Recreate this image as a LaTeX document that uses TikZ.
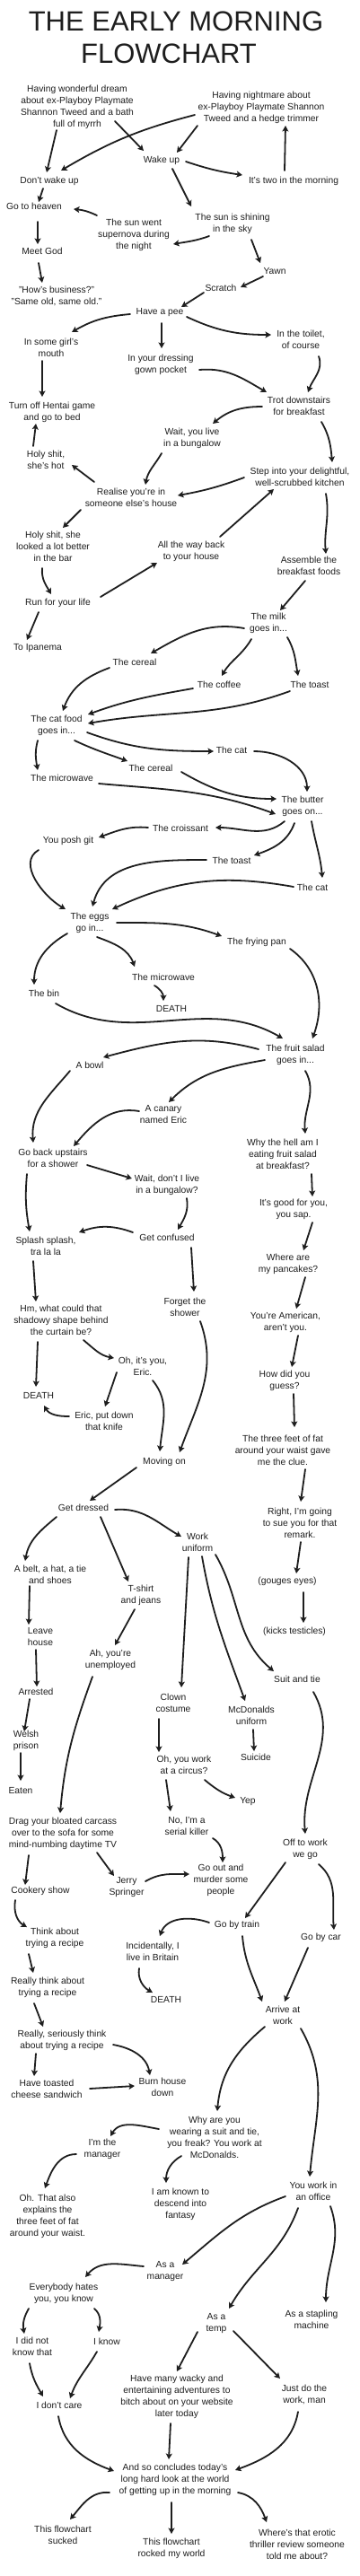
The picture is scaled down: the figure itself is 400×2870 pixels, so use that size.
\documentclass[tikz,border=0pt]{standalone}
\usepackage{fontspec}
\setmainfont{Liberation Sans}
\usetikzlibrary{arrows.meta}
\definecolor{ink}{HTML}{1E1E1E}
\newcommand{\ndfont}{\fontsize{10.3}{13}\selectfont}
\newcommand{\ttlfont}{\fontsize{31}{37}\selectfont}
\tikzset{
  box/.style={align=center, inner sep=1pt, text=ink, font=\ndfont},
  ttl/.style={inner sep=0pt, text=ink, font=\ttlfont},
  ar/.style={draw=ink, line width=1.8pt, line cap=round,
    -{Stealth[length=6.5pt,width=7pt,inset=1.5pt]}},
}
\begin{document}
\begin{tikzpicture}[x=1pt,y=-1pt]
\useasboundingbox (0,0) rectangle (400,2870);
\fill[white] (0,0) rectangle (400,2870);
% ---------- nodes ----------
\node[ttl] (t1) at (196,24) {THE EARLY MORNING};
\node[ttl] (t2) at (188,60) {FLOWCHART};
\node[box] (n1) at (86,119.5) {Having wonderful dream\\about ex-Playboy Playmate\\Shannon Tweed and a bath\\full of myrrh};
\node[box] (n2) at (291,119.5) {Having nightmare about\\ex-Playboy Playmate Shannon\\Tweed and a hedge trimmer};
\node[box] (wake) at (180,179) {Wake up};
\node[box] (dont) at (55,202) {Don't wake up};
\node[box] (twoam) at (327,202) {It's two in the morning};
\node[box] (heaven) at (38,230) {Go to heaven};
\node[box] (sun) at (259,249) {The sun is shining\\in the sky};
\node[box] (nova) at (149,262) {The sun went\\supernova during\\the night};
\node[box] (god) at (47,280) {Meet God};
\node[box] (biz) at (63,329.5) {"How's business?"\\"Same old, same old."};
\node[box] (yawn) at (306,302) {Yawn};
\node[box] (scratch) at (246,321) {Scratch};
\node[box] (pee) at (178,348) {Have a pee};
\node[box] (mouth) at (57,387) {In some girl's\\mouth};
\node[box] (toilet) at (335,378) {In the toilet,\\of course};
\node[box] (gown) at (179,406) {In your dressing\\gown pocket};
\node[box] (hentai) at (58,459.5) {Turn off Hentai game\\and go to bed};
\node[box] (trot) at (333,452.5) {Trot downstairs\\for breakfast};
\node[box] (bung) at (214,488) {Wait, you live\\in a bungalow};
\node[box] (hot) at (51,512.5) {Holy shit,\\she's hot};
\node[box] (kitchen) at (334,531.5) {Step into your delightful,\\well-scrubbed kitchen};
\node[box] (someone) at (146,554.5) {Realise you're in\\someone else's house};
\node[box] (bar) at (59,609) {Holy shit, she\\looked a lot better\\in the bar};
\node[box] (back) at (213,614.5) {All the way back\\to your house};
\node[box] (assemble) at (344,630.5) {Assemble the\\breakfast foods};
\node[box] (run) at (64.5,672) {Run for your life};
\node[box] (milk) at (299,694) {The milk\\goes in...};
\node[box] (ipanema) at (42,722) {To Ipanema};
\node[box] (cerealA) at (150,738) {The cereal};
\node[box] (coffee) at (244,763) {The coffee};
\node[box] (toastA) at (345,763) {The toast};
\node[box] (catfood) at (63,808) {The cat food\\goes in...};
\node[box] (catA) at (258,836) {The cat};
\node[box] (cerealB) at (168,856) {The cereal};
\node[box] (microA) at (69,867) {The microwave};
\node[box] (butter) at (337,898) {The butter\\goes on...};
\node[box] (croissant) at (201,923) {The croissant};
\node[box] (posh) at (76,937) {You posh git};
\node[box] (toastB) at (258,959) {The toast};
\node[box] (catB) at (348,989) {The cat};
\node[box] (eggs) at (100,1028) {The eggs\\go in...};
\node[box] (pan) at (286,1050) {The frying pan};
\node[box] (microB) at (182,1089) {The microwave};
\node[box] (bin) at (49,1107) {The bin};
\node[box] (deathA) at (191,1124) {DEATH};
\node[box] (fruit) at (329,1175.5) {The fruit salad\\goes in...};
\node[box] (bowl) at (100,1187) {A bowl};
\node[box] (canary) at (182,1241.5) {A canary\\named Eric};
\node[box] (why) at (315,1286) {Why the hell am I\\eating fruit salad\\at breakfast?};
\node[box] (upstairs) at (59,1290.5) {Go back upstairs\\for a shower};
\node[box] (waitB) at (186,1320.5) {Wait, don't I live\\in a bungalow?};
\node[box] (good) at (327,1347.5) {It's good for you,\\you sap.};
\node[box] (confused) at (186,1379) {Get confused};
\node[box] (splash) at (51,1388) {Splash splash,\\tra la la};
\node[box] (pancakes) at (321,1408) {Where are\\my pancakes?};
\node[box] (forget) at (206,1456) {Forget the\\shower};
\node[box] (shadow) at (68,1471) {Hm, what could that\\shadowy shape behind\\the curtain be?};
\node[box] (american) at (318,1473.5) {You're American,\\aren't you.};
\node[box] (oh) at (159,1522.5) {Oh, it's you,\\Eric.};
\node[box] (guess) at (317,1538.5) {How did you\\guess?};
\node[box] (deathB) at (43,1555) {DEATH};
\node[box] (knife) at (116,1583.5) {Eric, put down\\that knife};
\node[box] (fat) at (315,1616) {The three feet of fat\\around your waist gave\\me the clue.};
\node[box] (moving) at (183,1629) {Moving on};
\node[box] (dressed) at (93,1680) {Get dressed};
\node[box] (sue) at (334,1696.5) {Right, I'm going\\to sue you for that\\remark.};
\node[box] (uniform) at (220,1718) {Work\\uniform};
\node[box] (belt) at (56,1754.5) {A belt, a hat, a tie\\and shoes};
\node[box] (gouges) at (320,1762) {(gouges eyes)};
\node[box] (tshirt) at (157,1777) {T-shirt\\and jeans};
\node[box] (leave) at (45,1823.5) {Leave\\house};
\node[box] (kicks) at (328,1818) {(kicks testicles)};
\node[box] (unemployed) at (123,1849) {Ah, you're\\unemployed};
\node[box] (suit) at (331,1871) {Suit and tie};
\node[box] (arrested) at (40,1885) {Arrested};
\node[box] (clown) at (193,1897) {Clown\\costume};
\node[box] (mcd) at (280,1911.5) {McDonalds\\uniform};
\node[box] (welsh) at (29,1939) {Welsh\\prison};
\node[box] (ohwork) at (205,1966.5) {Oh, you work\\at a circus?};
\node[box] (suicide) at (285,1958) {Suicide};
\node[box] (eaten) at (23,1995) {Eaten};
\node[box] (yep) at (276,2007) {Yep};
\node[box] (drag) at (70,2043) {Drag your bloated carcass\\over to the sofa for some\\mind-numbing daytime TV};
\node[box] (serial) at (208,2034) {No, I'm a\\serial killer};
\node[box] (offwork) at (340,2060) {Off to work\\we go};
\node[box] (murder) at (246,2094.5) {Go out and\\murder some\\people};
\node[box] (jerry) at (141,2102) {Jerry\\Springer};
\node[box] (cookery) at (45,2107) {Cookery show};
\node[box] (train) at (264,2145) {Go by train};
\node[box] (car) at (357.5,2159) {Go by car};
\node[box] (thinkA) at (61,2159.5) {Think about\\trying a recipe};
\node[box] (brit) at (170,2174.5) {Incidentally, I\\live in Britain};
\node[box] (thinkB) at (53,2214) {Really think about\\trying a recipe};
\node[box] (deathC) at (185,2228) {DEATH};
\node[box] (arrive) at (315,2245.5) {Arrive at\\work};
\node[box] (thinkC) at (69,2273) {Really, seriously think\\about trying a recipe};
\node[box] (toasted) at (52,2327) {Have toasted\\cheese sandwich};
\node[box] (burn) at (181,2325) {Burn house\\down};
\node[box] (whysuit) at (239,2381.5) {Why are you\\wearing a suit and tie,\\you freak? You work at\\McDonalds.};
\node[box] (managerA) at (114,2394.5) {I'm the\\manager};
\node[box] (office) at (349,2441) {You work in\\an office};
\node[box] (fantasy) at (201,2455.5) {I am known to\\descend into\\fantasy};
\node[box] (alsofat) at (53,2469.5) {Oh. That also\\explains the\\three feet of fat\\around your waist.};
\node[box] (asmgr) at (184,2530.5) {As a\\manager};
\node[box] (hates) at (71,2555.5) {Everybody hates\\you, you know};
\node[box] (stapling) at (347,2584.5) {As a stapling\\machine};
\node[box] (temp) at (241,2588) {As a\\temp};
\node[box] (didnot) at (36,2614.5) {I did not\\know that};
\node[box] (know) at (119,2609) {I know};
\node[box] (wacky) at (197,2670) {Have many wacky and\\entertaining adventures to\\bitch about on your website\\later today};
\node[box] (justdo) at (339,2668) {Just do the\\work, man};
\node[box] (dontcare) at (66,2680) {I don't care};
\node[box] (conclude) at (195,2763) {And so concludes today's\\long hard look at the world\\of getting up in the morning};
\node[box] (sucked) at (70,2824) {This flowchart\\sucked};
\node[box] (rocked) at (191,2839.5) {This flowchart\\rocked my world};
\node[box] (erotic) at (331,2834.5) {Where's that erotic\\thriller review someone\\told me about?};
% ---------- connectors ----------
\draw[ar] ([shift={(-23,25.5)}]n1.center) -- ([shift={(-3,-10)}]dont.center);
\draw[ar] ([shift={(42,15.5)}]n1.center) -- ([shift={(-20,-11)}]wake.center);
\draw[ar] ([shift={(-74,8.5)}]n2.center) to[bend right=8] ([shift={(13,-12)}]dont.center);
\draw[ar] ([shift={(-71,20.5)}]n2.center) -- ([shift={(17,-9)}]wake.center);
\draw[ar] ([shift={(27,1)}]wake.center) to[bend right=5] ([shift={(-57,-7)}]twoam.center);
\draw[ar] ([shift={(-10,-12)}]twoam.center) -- ([shift={(27,20.5)}]n2.center);
\draw[ar] ([shift={(12,9)}]wake.center) -- ([shift={(-46,-19)}]sun.center);
\draw[ar] ([shift={(-7,8)}]dont.center) -- ([shift={(5,-5)}]heaven.center);
\draw[ar] ([shift={(-41,-22)}]nova.center) to[bend right=10] ([shift={(44,3)}]heaven.center);
\draw[ar] ([shift={(4,17)}]heaven.center) -- ([shift={(-5,-8)}]god.center);
\draw[ar] ([shift={(-4,13)}]god.center) -- ([shift={(-16,-14.5)}]biz.center);
\draw[ar] ([shift={(-26,14)}]sun.center) to[out=200,in=10] ([shift={(44,10)}]nova.center);
\draw[ar] ([shift={(21,18)}]sun.center) -- ([shift={(-16,-9)}]yawn.center);
\draw[ar] ([shift={(-13,6)}]yawn.center) -- ([shift={(22,-1)}]scratch.center);
\draw[ar] ([shift={(-19,5)}]scratch.center) -- ([shift={(24,-6)}]pee.center);
\draw[ar] ([shift={(-33,2)}]pee.center) to[out=185,in=30] ([shift={(23,-17)}]mouth.center);
\draw[ar] ([shift={(2,12)}]pee.center) -- ([shift={(1,-18)}]gown.center);
\draw[ar] ([shift={(30,5)}]pee.center) to[out=-25,in=180] ([shift={(-33,-5)}]toilet.center);
\draw[ar] ([shift={(-10,15)}]mouth.center) -- ([shift={(-11,-17.5)}]hentai.center);
\draw[ar] ([shift={(43,6)}]gown.center) to[out=5,in=150] ([shift={(-36,-15.5)}]trot.center);
\draw[ar] ([shift={(20,19)}]toilet.center) to[out=-70,in=70] ([shift={(10,-15.5)}]trot.center);
\draw[ar] ([shift={(-41,0.5)}]trot.center) to[out=180,in=40] ([shift={(23,-16)}]bung.center);
\draw[ar] ([shift={(25,17.5)}]trot.center) to[out=-60,in=95] ([shift={(36,-16.5)}]kitchen.center);
\draw[ar] ([shift={(-14,-15.5)}]hot.center) -- ([shift={(-18,12.5)}]hentai.center);
\draw[ar] ([shift={(-34,17)}]bung.center) to[out=-120,in=80] ([shift={(16,-14.5)}]someone.center);
\draw[ar] ([shift={(-41,-17.5)}]someone.center) -- ([shift={(29,5.5)}]hot.center);
\draw[ar] ([shift={(-62,0.5)}]kitchen.center) to[bend left=5] ([shift={(52,-2.5)}]someone.center);
\draw[ar] ([shift={(-56,13.5)}]someone.center) -- ([shift={(11,-21)}]bar.center);
\draw[ar] ([shift={(32,-16.5)}]back.center) -- ([shift={(-29,13.5)}]kitchen.center);
\draw[ar] ([shift={(29,18.5)}]kitchen.center) to[out=-80,in=95] ([shift={(19,-13.5)}]assemble.center);
\draw[ar] ([shift={(-12,24)}]bar.center) to[out=-95,in=120] ([shift={(-7.5,-10)}]run.center);
\draw[ar] ([shift={(47.5,-7)}]run.center) -- ([shift={(-38,12.5)}]back.center);
\draw[ar] ([shift={(-4,16.5)}]assemble.center) -- ([shift={(13,-14)}]milk.center);
\draw[ar] ([shift={(-21.5,10)}]run.center) -- ([shift={(-12,-9)}]ipanema.center);
\draw[ar] ([shift={(-27,6)}]milk.center) to[out=170,in=30] ([shift={(18,-10)}]cerealA.center);
\draw[ar] ([shift={(-19,18)}]milk.center) to[out=-120,in=60] ([shift={(3,-10)}]coffee.center);
\draw[ar] ([shift={(21,16)}]milk.center) to[out=-60,in=100] ([shift={(-13,-10)}]toastA.center);
\draw[ar] ([shift={(-28,6)}]cerealA.center) to[out=200,in=70] ([shift={(7,-16)}]catfood.center);
\draw[ar] ([shift={(-29,4)}]coffee.center) to[out=190,in=20] ([shift={(35,-12)}]catfood.center);
\draw[ar] ([shift={(-22,7)}]toastA.center) to[out=200,in=10] ([shift={(35,-2)}]catfood.center);
\draw[ar] ([shift={(34,8)}]catfood.center) to[out=-20,in=180] ([shift={(-20,1)}]catA.center);
\draw[ar] ([shift={(20,17)}]catfood.center) to[out=-25,in=160] ([shift={(-26,-8)}]cerealB.center);
\draw[ar] ([shift={(-21,17)}]catfood.center) to[out=-105,in=100] ([shift={(-27,-9)}]microA.center);
\draw[ar] ([shift={(25,1)}]catA.center) to[out=0,in=90] ([shift={(5,-16)}]butter.center);
\draw[ar] ([shift={(34,4)}]cerealB.center) to[out=-30,in=180] ([shift={(-29,-8)}]butter.center);
\draw[ar] ([shift={(41,6)}]microA.center) to[out=-5,in=160] ([shift={(-30,9)}]butter.center);
\draw[ar] ([shift={(-20,17)}]butter.center) to[out=-140,in=0] ([shift={(39,-1)}]croissant.center);
\draw[ar] ([shift={(-36,-1)}]croissant.center) to[out=175,in=20] ([shift={(34,-4)}]posh.center);
\draw[ar] ([shift={(-9,19)}]butter.center) to[out=-110,in=20] ([shift={(25,-6)}]toastB.center);
\draw[ar] ([shift={(10,17)}]butter.center) to[out=-80,in=95] ([shift={(11,-11)}]catB.center);
\draw[ar] ([shift={(-33,10)}]posh.center) to[out=210,in=150] ([shift={(-27,-15)}]eggs.center);
\draw[ar] ([shift={(-28,-1)}]toastB.center) to[out=180,in=75] ([shift={(3,-18)}]eggs.center);
\draw[ar] ([shift={(-21,-1)}]catB.center) to[out=170,in=25] ([shift={(25,-15)}]eggs.center);
\draw[ar] ([shift={(30,0)}]eggs.center) to[out=0,in=160] ([shift={(-39,-7)}]pan.center);
\draw[ar] ([shift={(8,16)}]eggs.center) to[out=-20,in=110] ([shift={(-32,-12)}]microB.center);
\draw[ar] ([shift={(-25,12)}]eggs.center) to[out=-150,in=90] ([shift={(-11,-10)}]bin.center);
\draw[ar] ([shift={(-10,9)}]microB.center) to[out=-30,in=90] ([shift={(-9,-9)}]deathA.center);
\draw[ar] ([shift={(13,11)}]bin.center) to[out=-30,in=150] ([shift={(-14,-18.5)}]fruit.center);
\draw[ar] ([shift={(37,7)}]pan.center) to[out=-35,in=70] ([shift={(19,-18.5)}]fruit.center);
\draw[ar] ([shift={(-41,-6.5)}]fruit.center) to[out=165,in=15] ([shift={(15,-9)}]bowl.center);
\draw[ar] ([shift={(-22,6)}]bowl.center) to[out=-130,in=95] ([shift={(-22,-17.5)}]upstairs.center);
\draw[ar] ([shift={(-34,5.5)}]fruit.center) to[out=190,in=45] ([shift={(6,-13.5)}]canary.center);
\draw[ar] ([shift={(11,17.5)}]fruit.center) to[out=-60,in=95] ([shift={(25,-23)}]why.center);
\draw[ar] ([shift={(-27,-3.5)}]canary.center) to[out=170,in=50] ([shift={(23,-13.5)}]upstairs.center);
\draw[ar] ([shift={(38,7.5)}]upstairs.center) -- ([shift={(-39,-7.5)}]waitB.center);
\draw[ar] ([shift={(-29,17.5)}]upstairs.center) to[out=-95,in=100] ([shift={(-18,-16)}]splash.center);
\draw[ar] ([shift={(22,14.5)}]waitB.center) to[out=-80,in=60] ([shift={(12,-9)}]confused.center);
\draw[ar] ([shift={(-38,-6)}]confused.center) to[out=160,in=20] ([shift={(37,-15)}]splash.center);
\draw[ar] ([shift={(27,11)}]confused.center) -- ([shift={(10,-17)}]forget.center);
\draw[ar] ([shift={(32,22)}]why.center) -- ([shift={(21,-14.5)}]good.center);
\draw[ar] ([shift={(21,14.5)}]good.center) -- ([shift={(17,-15)}]pancakes.center);
\draw[ar] ([shift={(19,15)}]pancakes.center) -- ([shift={(12,-15.5)}]american.center);
\draw[ar] ([shift={(-14,17)}]splash.center) -- ([shift={(-28,-21)}]shadow.center);
\draw[ar] ([shift={(-26,24)}]shadow.center) -- ([shift={(-3,-10)}]deathB.center);
\draw[ar] ([shift={(25,22)}]shadow.center) to[out=-40,in=170] ([shift={(-32,-9.5)}]oh.center);
\draw[ar] ([shift={(-29,6.5)}]oh.center) -- ([shift={(1,-16.5)}]knife.center);
\draw[ar] ([shift={(-39,-5.5)}]knife.center) to[out=180,in=-60] ([shift={(6,11)}]deathB.center);
\draw[ar] ([shift={(11,15.5)}]oh.center) to[out=-50,in=85] ([shift={(-5,-12)}]moving.center);
\draw[ar] ([shift={(17,16)}]forget.center) to[out=-70,in=70] ([shift={(17,-11)}]moving.center);
\draw[ar] ([shift={(14,14.5)}]american.center) -- ([shift={(8,-15.5)}]guess.center);
\draw[ar] ([shift={(10,14.5)}]guess.center) -- ([shift={(13,-26)}]fat.center);
\draw[ar] ([shift={(25,21)}]fat.center) -- ([shift={(1,-23.5)}]sue.center);
\draw[ar] ([shift={(-31,6)}]moving.center) -- ([shift={(7,-8)}]dressed.center);
\draw[ar] ([shift={(35,2)}]dressed.center) to[out=5,in=150] ([shift={(-18,-6)}]uniform.center);
\draw[ar] ([shift={(-30,10)}]dressed.center) to[out=-140,in=80] ([shift={(-28,-15.5)}]belt.center);
\draw[ar] ([shift={(19,10)}]dressed.center) -- ([shift={(-14,-15)}]tshirt.center);
\draw[ar] ([shift={(1,21.5)}]sue.center) -- ([shift={(10,-9)}]gouges.center);
\draw[ar] ([shift={(18,12)}]gouges.center) -- ([shift={(10,-10)}]kicks.center);
\draw[ar] ([shift={(-23,12.5)}]belt.center) -- ([shift={(-13,-13.5)}]leave.center);
\draw[ar] ([shift={(-7,16)}]tshirt.center) -- ([shift={(5,-16)}]unemployed.center);
\draw[ar] ([shift={(-10,17)}]uniform.center) -- ([shift={(9,-17)}]clown.center);
\draw[ar] ([shift={(5,16)}]uniform.center) to[out=-80,in=110] ([shift={(-7,-16.5)}]mcd.center);
\draw[ar] ([shift={(20,14)}]uniform.center) to[out=-60,in=140] ([shift={(-26,-9)}]suit.center);
\draw[ar] ([shift={(-5,14.5)}]leave.center) -- ([shift={(1,-6)}]arrested.center);
\draw[ar] ([shift={(-7,8)}]arrested.center) -- ([shift={(-2,-10)}]welsh.center);
\draw[ar] ([shift={(-20,19)}]unemployed.center) to[out=-110,in=85] ([shift={(-3,-23)}]drag.center);
\draw[ar] ([shift={(-16,18)}]clown.center) -- ([shift={(-28,-14.5)}]ohwork.center);
\draw[ar] ([shift={(2,15.5)}]mcd.center) -- ([shift={(-2,-7)}]suicide.center);
\draw[ar] ([shift={(18,14)}]suit.center) to[out=-60,in=95] ([shift={(0,-17)}]offwork.center);
\draw[ar] ([shift={(-6,14)}]welsh.center) -- ([shift={(0,-11)}]eaten.center);
\draw[ar] ([shift={(23,16.5)}]ohwork.center) to[out=-40,in=160] ([shift={(-14,-4)}]yep.center);
\draw[ar] ([shift={(-20,16.5)}]ohwork.center) -- ([shift={(-18,-16)}]serial.center);
\draw[ar] ([shift={(29,14)}]serial.center) to[out=-30,in=90] ([shift={(2,-19.5)}]murder.center);
\draw[ar] ([shift={(-38,24)}]drag.center) -- ([shift={(-17,-7)}]cookery.center);
\draw[ar] ([shift={(38,21)}]drag.center) -- ([shift={(-14,-12)}]jerry.center);
\draw[ar] ([shift={(21,-6)}]jerry.center) to[out=30,in=180] ([shift={(-35,-6.5)}]murder.center);
\draw[ar] ([shift={(-22,15)}]offwork.center) -- ([shift={(9,-8)}]train.center);
\draw[ar] ([shift={(15,17)}]offwork.center) to[out=-40,in=95] ([shift={(14.5,-9)}]car.center);
\draw[ar] ([shift={(-28,10)}]cookery.center) to[out=-100,in=150] ([shift={(-31,-12.5)}]thinkA.center);
\draw[ar] ([shift={(-31,-3)}]train.center) to[out=160,in=70] ([shift={(8,-17.5)}]brit.center);
\draw[ar] ([shift={(6,12)}]train.center) to[out=-85,in=110] ([shift={(-23,-15.5)}]arrive.center);
\draw[ar] ([shift={(-14.5,11)}]car.center) -- ([shift={(2,-15.5)}]arrive.center);
\draw[ar] ([shift={(-29,17.5)}]thinkA.center) -- ([shift={(-16,-16)}]thinkB.center);
\draw[ar] ([shift={(-15,18.5)}]brit.center) to[out=-100,in=150] ([shift={(-15,-8)}]deathC.center);
\draw[ar] ([shift={(-15,18)}]thinkB.center) -- ([shift={(-21,-15)}]thinkC.center);
\draw[ar] ([shift={(-20,12.5)}]arrive.center) to[out=-140,in=85] ([shift={(3,-29.5)}]whysuit.center);
\draw[ar] ([shift={(20,14.5)}]arrive.center) to[out=-60,in=85] ([shift={(-4,-16)}]office.center);
\draw[ar] ([shift={(57,5)}]thinkC.center) to[out=-10,in=100] ([shift={(-14,-13)}]burn.center);
\draw[ar] ([shift={(-29,15)}]thinkC.center) -- ([shift={(-14,-14)}]toasted.center);
\draw[ar] ([shift={(48,0)}]toasted.center) -- ([shift={(-31,-1)}]burn.center);
\draw[ar] ([shift={(-62,-9.5)}]whysuit.center) to[out=170,in=60] ([shift={(9,-14.5)}]managerA.center);
\draw[ar] ([shift={(-29,5.5)}]managerA.center) to[out=180,in=70] ([shift={(-3,-31.5)}]alsofat.center);
\draw[ar] ([shift={(-37,20.5)}]whysuit.center) to[out=-150,in=90] ([shift={(-16,-23.5)}]fantasy.center);
\draw[ar] ([shift={(-31,6)}]office.center) to[out=-160,in=40] ([shift={(19,-7.5)}]asmgr.center);
\draw[ar] ([shift={(-17,19)}]office.center) to[out=-110,in=60] ([shift={(14,-16)}]temp.center);
\draw[ar] ([shift={(19,17)}]office.center) to[out=-70,in=90] ([shift={(16,-19.5)}]stapling.center);
\draw[ar] ([shift={(-24,-5.5)}]asmgr.center) to[out=175,in=50] ([shift={(24,-18.5)}]hates.center);
\draw[ar] ([shift={(-39,16.5)}]hates.center) to[out=-120,in=100] ([shift={(-9,-14.5)}]didnot.center);
\draw[ar] ([shift={(34,16.5)}]hates.center) to[out=-40,in=80] ([shift={(-9,-11)}]know.center);
\draw[ar] ([shift={(-3,18.5)}]didnot.center) to[out=-80,in=120] ([shift={(-18,-10)}]dontcare.center);
\draw[ar] ([shift={(-11,11)}]know.center) to[out=-120,in=70] ([shift={(12,-8)}]dontcare.center);
\draw[ar] ([shift={(-21,10)}]temp.center) -- ([shift={(0,-28)}]wacky.center);
\draw[ar] ([shift={(19,9)}]temp.center) -- ([shift={(-27,-18)}]justdo.center);
\draw[ar] ([shift={(-1,12)}]dontcare.center) to[out=-80,in=160] ([shift={(-68,-10)}]conclude.center);
\draw[ar] ([shift={(-7,30)}]wacky.center) -- ([shift={(-7,-23)}]conclude.center);
\draw[ar] ([shift={(-7,19)}]justdo.center) to[out=-100,in=20] ([shift={(67,-11)}]conclude.center);
\draw[ar] ([shift={(-73,14)}]conclude.center) to[out=175,in=50] ([shift={(8,-17)}]sucked.center);
\draw[ar] ([shift={(-4,25)}]conclude.center) -- ([shift={(0,-16.5)}]rocked.center);
\draw[ar] ([shift={(70,14)}]conclude.center) to[out=-10,in=110] ([shift={(-34,-24.5)}]erotic.center);
\end{tikzpicture}
\end{document}
